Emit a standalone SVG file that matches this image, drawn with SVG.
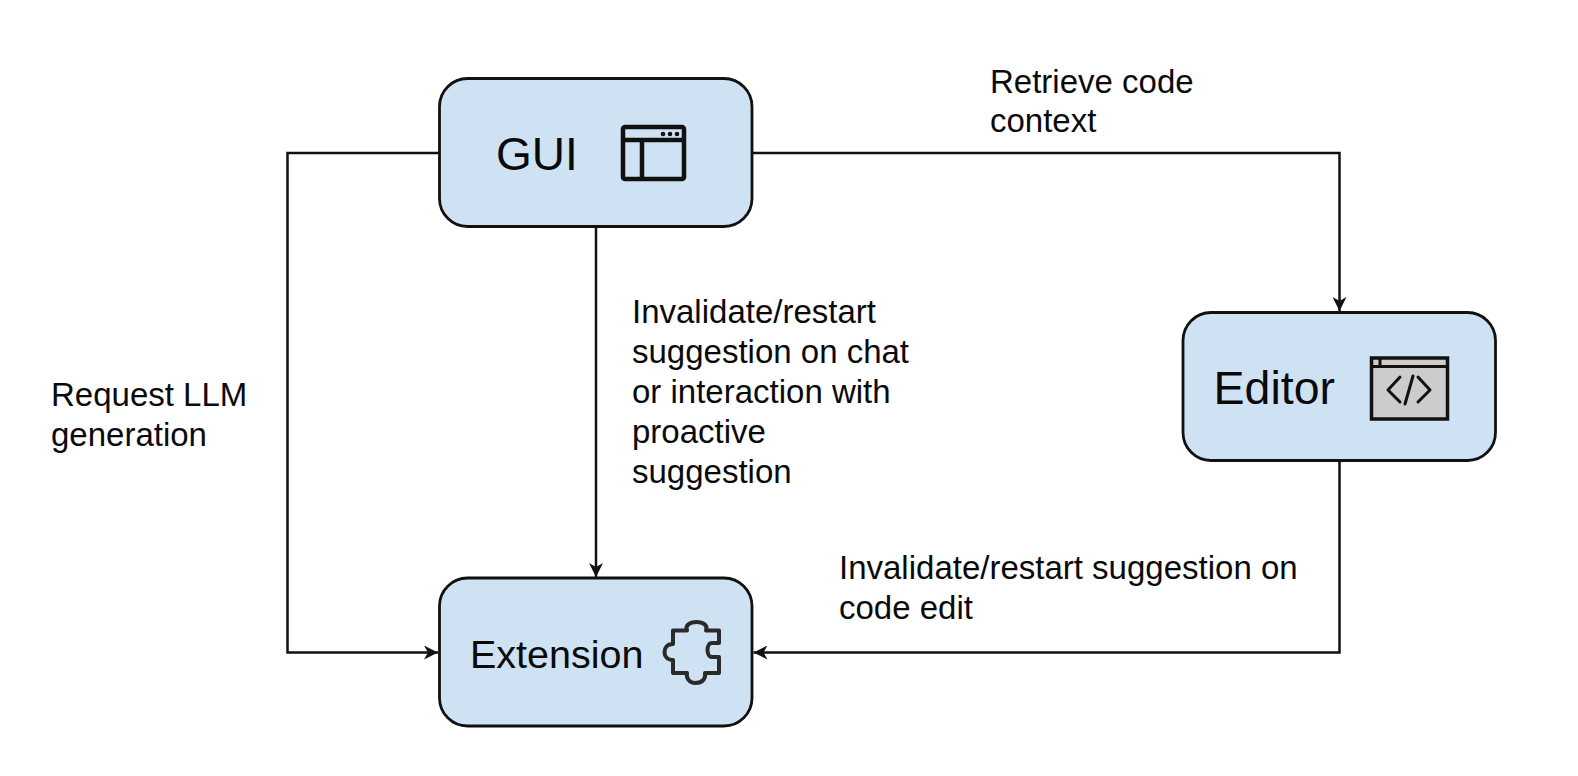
<svg xmlns="http://www.w3.org/2000/svg" width="1578" height="776" viewBox="0 0 1578 776">
<style>
.box{fill:#cfe2f3;stroke:#111;stroke-width:2.800}
.t{font-family:"Liberation Sans",Arial,sans-serif;fill:#0a0a0a}
.l{font-size:33px}
.c{fill:none;stroke:#111;stroke-width:2.500}
.i{fill:none;stroke:#111;stroke-width:4.500;stroke-linejoin:round}
</style>
<defs>
<marker id="a" markerUnits="userSpaceOnUse" markerWidth="16" markerHeight="14" refX="14" refY="7" orient="auto"><path d="M0 0L14 7L0 14L4 7Z" fill="#111"/></marker>
</defs>
<rect width="1578" height="776" fill="#fff"/>
<g id="connectors">
<path class="c" d="M439.500 153H287.500V652.500H438" marker-end="url(#a)"/>
<path class="c" d="M752 153H1339.500V311" marker-end="url(#a)"/>
<path class="c" d="M596 226.500V577" marker-end="url(#a)"/>
<path class="c" d="M1339.500 460.500V652.500H753.500" marker-end="url(#a)"/>
</g>
<g id="gui">
<rect class="box" x="439.500" y="78.500" width="312.500" height="148" rx="28"/>
<text class="t" x="496" y="169.500" font-size="46">GUI</text>
<g class="i"><rect x="623" y="127" width="61" height="52" rx="2"/><path d="M623 140H684M642 140V179"/></g>
<g fill="#111"><circle cx="663" cy="134" r="2.300"/><circle cx="670" cy="134" r="2.300"/><circle cx="677" cy="134" r="2.300"/></g>
</g>
<g id="editor">
<rect class="box" x="1183" y="312.500" width="312.500" height="148" rx="28"/>
<text class="t" x="1213.500" y="404" font-size="46.500">Editor</text>
<rect x="1371.500" y="358" width="76" height="61" fill="#ccc" stroke="#111" stroke-width="3.500"/>
<path d="M1371.500 366.500H1447.500M1380 358V366.500" fill="none" stroke="#111" stroke-width="3"/>
<path d="M1400 377L1388 390L1400 402M1418 377L1430 390L1418 402M1413 376L1405 404" fill="none" stroke="#111" stroke-width="3" stroke-linecap="round" stroke-linejoin="round"/>
</g>
<g id="extension">
<rect class="box" x="439.500" y="578" width="312.500" height="148" rx="28"/>
<text class="t" x="470" y="668" font-size="39.500">Extension</text>
<path d="M673 630.500H687C685 626 689 622 696.500 622C704 622 708 626 706 630.500H719V643H712C706 643 706 657 712 657H719V673H705C706 678 703 683 695.500 683C689 683 686 678 687 673H673V660C667 660 664.500 656 664.500 652C664.500 648 667 644 673 644Z" fill="none" stroke="#2a2a2a" stroke-width="4" stroke-linejoin="round"/>
</g>
<g id="labels" class="t l">
<text x="990" y="93">Retrieve code</text>
<text x="990" y="132">context</text>
<text x="632" y="323">Invalidate/restart</text>
<text x="632" y="363">suggestion on chat</text>
<text x="632" y="403">or interaction with</text>
<text x="632" y="443">proactive</text>
<text x="632" y="483">suggestion</text>
<text x="51" y="406">Request LLM</text>
<text x="51" y="446">generation</text>
<text x="839" y="579">Invalidate/restart suggestion on</text>
<text x="839" y="619">code edit</text>
</g>
</svg>
